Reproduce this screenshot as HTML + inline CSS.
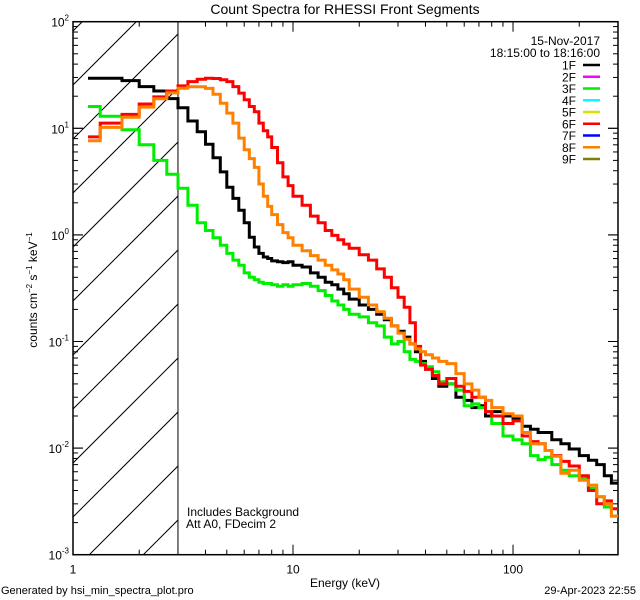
<!DOCTYPE html>
<html><head><meta charset="utf-8"><style>
html,body{margin:0;padding:0;background:#fff;width:640px;height:600px;overflow:hidden;}
svg{display:block;font-family:"Liberation Sans",sans-serif;}
</style></head><body>
<svg id="chart" width="640" height="600" xmlns="http://www.w3.org/2000/svg" style="overflow:hidden">
<rect width="640" height="600" fill="#fff"/>
<defs><clipPath id="hclip"><rect x="73" y="21.7" width="104.5" height="533"/></clipPath>
<clipPath id="pclip"><rect x="73" y="21.7" width="545" height="533"/></clipPath></defs>
<text x="345" y="14" font-size="14" text-anchor="middle">Count Spectra for RHESSI Front Segments</text>
<g id="hatch" clip-path="url(#hclip)"></g>
<g id="axes"></g>
<g id="series" clip-path="url(#pclip)"></g>
<g id="legend"></g>
<text x="187" y="516" font-size="12">Includes Background</text>
<text x="186" y="528" font-size="12">Att A0, FDecim 2</text>
<text x="345" y="587" font-size="12" text-anchor="middle">Energy (keV)</text>
<text transform="translate(37,290) rotate(-90)" font-size="12" text-anchor="middle">counts cm<tspan dy="-5" font-size="8">−2</tspan><tspan dy="5"> s</tspan><tspan dy="-5" font-size="8">−1</tspan><tspan dy="5"> keV</tspan><tspan dy="-5" font-size="8">−1</tspan></text>
<text x="1" y="594" font-size="11">Generated by hsi_min_spectra_plot.pro</text>
<text x="636" y="594" font-size="11" text-anchor="end">29-Apr-2023 22:55</text>
</svg>
<script>
const edges=[1.17,1.33,1.67,2,2.33,2.67,3,3.33,3.67,4,4.33,4.67,5,5.33,5.67,6,6.33,6.67,7,7.33,7.67,8,8.5,9,9.5,10,11,12,13,14,15,16,17,18,20,22,24,26,28,30,32,34,36,38,40,43,46,50,55,60,65,70,75,80,90,100,110,120,130,140,150,165,180,200,220,240,260,280,300];
const seg1F=[29.5,29.5,28,24.6,22.4,19,15.6,11.7,9.3,7.1,5.3,3.9,2.8,2.2,1.7,1.3,0.95,0.77,0.67,0.62,0.6,0.57,0.56,0.55,0.56,0.52,0.5,0.44,0.4,0.36,0.34,0.31,0.28,0.25,0.22,0.2,0.18,0.16,0.14,0.125,0.11,0.095,0.08,0.065,0.055,0.045,0.038,0.04,0.03,0.028,0.024,0.025,0.02,0.022,0.02,0.019,0.016,0.015,0.014,0.014,0.012,0.011,0.0098,0.0085,0.0077,0.007,0.0055,0.0047];
const seg3F=[16,13,9.7,7,5,3.7,2.74,1.9,1.3,1.1,0.94,0.8,0.67,0.58,0.52,0.44,0.4,0.38,0.36,0.35,0.35,0.34,0.33,0.34,0.33,0.34,0.35,0.33,0.3,0.27,0.24,0.22,0.2,0.18,0.17,0.15,0.14,0.11,0.095,0.1,0.08,0.068,0.065,0.062,0.058,0.052,0.042,0.04,0.035,0.025,0.026,0.024,0.022,0.017,0.013,0.012,0.011,0.0085,0.0078,0.0082,0.007,0.0062,0.0055,0.0052,0.0042,0.0035,0.0028,0.0023];
const seg6F=[8.3,11.2,13.5,16.9,19.7,22.4,25,27.4,28.9,29.5,29.3,28.5,27.4,24.6,21.4,18.5,16,14.3,11.2,9.5,8.3,6.6,4.75,3.5,2.9,2.3,1.9,1.5,1.3,1.1,0.99,0.9,0.82,0.75,0.65,0.58,0.48,0.4,0.32,0.26,0.21,0.15,0.09,0.06,0.055,0.048,0.04,0.045,0.038,0.034,0.03,0.03,0.022,0.02,0.017,0.018,0.013,0.0115,0.011,0.0095,0.0085,0.0075,0.0068,0.0055,0.004,0.003,0.0032,0.0027];
const seg8F=[7.65,10.2,12.7,15.8,18.9,21.5,23.8,24.5,24.5,23.7,20.9,17.2,13.9,11.2,8.1,6.3,5.2,4.3,3.0,2.3,1.85,1.55,1.25,1.05,0.94,0.8,0.71,0.64,0.58,0.52,0.47,0.43,0.38,0.31,0.26,0.22,0.19,0.165,0.14,0.12,0.105,0.095,0.085,0.08,0.075,0.07,0.065,0.062,0.05,0.04,0.035,0.03,0.028,0.024,0.021,0.02,0.014,0.011,0.011,0.0095,0.0084,0.0058,0.0062,0.005,0.0045,0.0035,0.003,0.0023];
const legendLabels=["1F","2F","3F","4F","5F","6F","7F","8F","9F"];
const legendColors=["#000","#ff00ff","#00ee00","#00ffff","#dddd00","#ff0000","#0000ff","#ff8000","#808000"];
const xTickLabels=["1","10","100"];
const yTickExps=[2,1,0,-1,-2,-3];

const NS="http://www.w3.org/2000/svg";
const X0=73,X1=618,Y0=21.7,Y1=554.7,XMIN=1,XMAX=300,YMIN=-3,YMAX=2;
function xs(e){return X0+(Math.log10(e)-Math.log10(XMIN))/(Math.log10(XMAX)-Math.log10(XMIN))*(X1-X0);}
function ys(v){return Y0+(YMAX-Math.log10(v))/(YMAX-YMIN)*(Y1-Y0);}
function mk(tag,attrs,parent){const el=document.createElementNS(NS,tag);for(const k in attrs)el.setAttribute(k,attrs[k]);parent.appendChild(el);return el;}

const hatch=document.getElementById('hatch');
for(let c=158-54*3;c<158+54*12;c+=54){
  const l=mk('line',{x1:0,y1:c,x2:c,y2:0,stroke:'#000','stroke-width':1},hatch);
  
  
}
const axes=document.getElementById('axes');
const frame=mk('rect',{x:X0,y:Y0,width:X1-X0,height:Y1-Y0,fill:'none',stroke:'#000','stroke-width':1.5},axes);


const att=mk('line',{x1:xs(3),y1:Y0,x2:xs(3),y2:Y1,stroke:'#000','stroke-width':1},axes);


for(let d=1;d<=100;d*=10){for(let m=1;m<=9;m++){const e=d*m;if(e>XMAX)break;const x=xs(e);const L=m==1?10:5;
  mk('line',{x1:x,y1:Y1,x2:x,y2:Y1-L,stroke:'#000'},axes);mk('line',{x1:x,y1:Y0,x2:x,y2:Y0+L,stroke:'#000'},axes);}}
xTickLabels.forEach(t=>{const tx=mk('text',{x:xs(+t),y:Y1+19,'font-size':12,'text-anchor':'middle'},axes);tx.textContent=t;
  
  });
for(let p=-3;p<2;p++){for(let m=1;m<=10;m++){const v=m*Math.pow(10,p);const y=ys(v);const L=(m==1||m==10)?10:5;
  mk('line',{x1:X0,y1:y,x2:X0+L,y2:y,stroke:'#000'},axes);mk('line',{x1:X1,y1:y,x2:X1-L,y2:y,stroke:'#000'},axes);}}
yTickExps.forEach(p=>{const tx=mk('text',{x:X0-4,y:ys(Math.pow(10,p))+5,'font-size':12,'text-anchor':'end'},axes);
  tx.innerHTML='10<tspan dy="-6" font-size="8">'+p+'</tspan>';
  
  });
const sg=document.getElementById('series');
[[seg1F,'#000','series-1f'],[seg3F,'#00ee00','series-3f'],[seg6F,'#ff0000','series-6f'],[seg8F,'#ff8000','series-8f']].forEach(([vals,col,name])=>{
  let d='';vals.forEach((v,i)=>{const y=ys(v);const a=xs(edges[i]),b=xs(edges[i+1]);d+=(i==0?'M':'L')+a.toFixed(1)+','+y.toFixed(1)+'L'+b.toFixed(1)+','+y.toFixed(1);});
  const p=mk('path',{d:d,fill:'none',stroke:col,'stroke-width':3,'stroke-linejoin':'miter'},sg);
  
  
});
const lg=document.getElementById('legend');
const t1=mk('text',{x:600,y:45,'font-size':12,'text-anchor':'end'},lg);t1.textContent='15-Nov-2017';


const t2=mk('text',{x:600,y:57,'font-size':12,'text-anchor':'end'},lg);t2.textContent='18:15:00 to 18:16:00';


legendLabels.forEach((lab,i)=>{const y=65+i*11.75;
  const g=mk('g',{},lg);
  
  
  const t=mk('text',{x:576,y:y+4.5,'font-size':12,'text-anchor':'end'},g);t.textContent=lab;
  mk('line',{x1:583,y1:y,x2:600,y2:y,stroke:legendColors[i],'stroke-width':2.5},g);});
</script>
</body></html>
